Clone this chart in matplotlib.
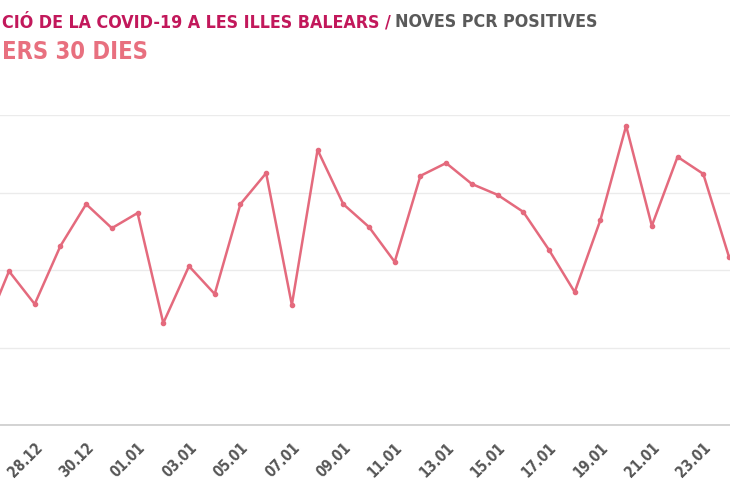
import matplotlib
matplotlib.use("Agg")
import matplotlib.pyplot as plt

# dades: noves PCR positives, darrers 30 dies (26.12 - 24.01)
dates = ["26.12", "27.12", "28.12", "29.12", "30.12", "31.12", "01.01", "02.01",
         "03.01", "04.01", "05.01", "06.01", "07.01", "08.01", "09.01", "10.01",
         "11.01", "12.01", "13.01", "14.01", "15.01", "16.01", "17.01", "18.01",
         "19.01", "20.01", "21.01", "22.01", "23.01", "24.01"]
positives = [235, 397, 312, 462, 570, 508, 547, 263, 410, 338,
             570, 650, 310, 710, 570, 511, 421, 643, 676, 622,
             594, 550, 452, 343, 529, 772, 514, 692, 648, 434]
yticks = [0, 200, 400, 600, 800]

font = "DejaVu Sans"
line_col = "#e46a7d"

fig = plt.figure(figsize=(7.3, 5), dpi=100)
# el grafic original esta retallat per l'esquerra
ax = fig.add_axes([0, 0.15, 1, 0.62])

x = list(range(len(dates)))
ax.plot(x, positives, color=line_col, lw=1.8, marker="o", ms=3, zorder=3)

ax.set_xlim(0.65, 29.04)
ax.set_ylim(0, 800)
ax.set_yticks(yticks)
ax.set_yticklabels([])
ax.tick_params(axis="y", length=0)
ax.grid(axis="y", color="#ebebeb", lw=1)
ax.set_axisbelow(True)

for s in ["top", "right", "left"]:
    ax.spines[s].set_visible(False)
ax.spines["bottom"].set_color("#cccccc")
ax.spines["bottom"].set_linewidth(1.2)

ticks = x[2::2]
ax.set_xticks(ticks)
ax.set_xticklabels([dates[i] for i in ticks], rotation=45, ha="right", va="top",
                   rotation_mode="anchor", fontsize=10.5, fontweight="bold",
                   fontstretch="condensed", color="#555555", family=font)
ax.tick_params(axis="x", length=0, pad=11)

# titol (retallat)
t1 = fig.text(0.003, 0.956, "CIÓ DE LA COVID-19 A LES ILLES BALEARS /", color="#c2185b",
              fontsize=12.8, fontweight="bold", fontstretch="condensed", family=font,
              va="center")
fig.canvas.draw()
bb = t1.get_window_extent()
fig.text(bb.x1 / fig.bbox.width + 0.006, 0.956, "NOVES PCR POSITIVES", color="#5a5a5a",
         fontsize=12.8, fontweight="bold", fontstretch="condensed", family=font,
         va="center")
fig.text(0.003, 0.896, "ERS 30 DIES", color="#e8707f", fontsize=17,
         fontweight="bold", fontstretch="condensed", family=font, va="center")

fig.savefig("out.png", dpi=100, facecolor="white")
